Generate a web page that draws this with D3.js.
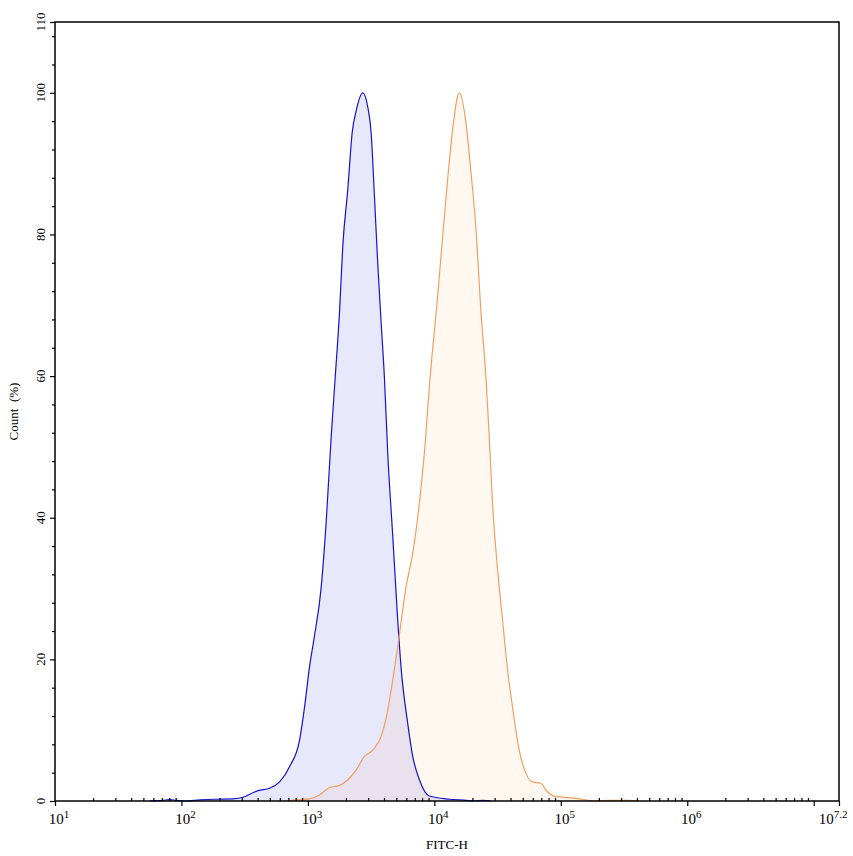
<!DOCTYPE html>
<html>
<head>
<meta charset="utf-8">
<script src="https://cdn.jsdelivr.net/npm/d3@7"></script>
<style>
  body { margin: 0; background: #fff; }
  text { font-family: "Liberation Serif", "Times New Roman", serif; fill: #000; }
</style>
</head>
<body>
<div id="chart"></div>
<script>
// FITC-H intensity (linear units) and Count (%)
var blueX = [56, 71, 81, 90, 106, 140, 183, 254, 316, 346, 403, 498, 597, 716, 859, 941, 1031, 1115,
  1276, 1398, 1529, 1644, 1778, 1888, 2068, 2240, 2410, 2718, 2974, 3162, 3357, 3565, 3793, 4027,
  4276, 4688, 5129, 5458, 6152, 6745, 7616, 9120, 13120, 17900, 20700, 24400, 28200];
var blueY = [0, 0.1, 0.2, 0.1, 0, 0.15, 0.25, 0.3, 0.6, 0.95, 1.46, 1.8, 2.7, 4.85, 8.6, 13.3, 19, 22.8,
  30.3, 39.7, 51.5, 59.8, 69, 78.4, 86.4, 94.4, 97.5, 100, 98, 94.4, 85.5, 76, 67.6, 59.8,
  49.2, 37.4, 25.6, 18.8, 11, 6.3, 3, 0.7, 0.25, 0.1, 0, 0.1, 0];

var orangeX = [655, 761, 1031, 1236, 1483, 1778, 2068, 2410, 2800, 3258, 3793, 4155, 4688, 5223, 5980,
  6745, 7616, 8340, 9250, 10620, 11640, 12740, 13960, 15750, 17780, 19480, 21340, 23380, 25590,
  27160, 28840, 31620, 34600, 37930, 41500, 46900, 52960, 59700, 69500, 76200, 88500, 109600,
  148300, 183200, 241000, 346000, 415000];
var orangeY = [0, 0.14, 0.3, 0.85, 1.9, 2.2, 3, 4.4, 6.3, 7.2, 9.1, 11.7, 17.1, 22.8, 30.3,
  35, 42.1, 49.2, 59.8, 71.3, 79.8, 87.8, 94.9, 100, 95.8, 88.8, 80.8, 69, 59.8,
  51.5, 42.1, 32.7, 25.6, 18.5, 13.3, 7.2, 3.9, 2.7, 2.5, 1.55, 0.7, 0.5,
  0.24, 0, 0.1, 0.1, 0];

var xMajorExp = [1, 2, 3, 4, 5, 6, 7];
var xLabelExp = ["1", "2", "3", "4", "5", "6", "7.2"];
var yMajor = [0, 20, 40, 60, 80, 100, 110];

var svgWidth = 853, svgHeight = 856;
var margin = {top: 22, right: 14, bottom: 55, left: 55};
var width = svgWidth - margin.left - margin.right;
var height = svgHeight - margin.top - margin.bottom;

var svg = d3.select("#chart").append("svg")
  .attr("width", svgWidth)
  .attr("height", svgHeight);
var g = svg.append("g").attr("transform", `translate(${margin.left},${margin.top})`);

var x = d3.scaleLog().domain([10, Math.pow(10, 7.2)]).range([0, width]);
var y = d3.scaleLinear().domain([0, 110]).range([height, 0]);

function series(xs, ys) { return xs.map((v, i) => ({x: v, y: ys[i]})); }
var blue = series(blueX, blueY);
var orange = series(orangeX, orangeY);

var area = d3.area().x(d => x(d.x)).y0(y(0)).y1(d => y(d.y)).curve(d3.curveMonotoneX);
var line = d3.line().x(d => x(d.x)).y(d => y(d.y)).curve(d3.curveMonotoneX);

g.append("path").datum(blue).attr("d", area).attr("fill", "#e8e8fc");
g.append("path").datum(orange).attr("d", area).attr("fill", "#ffa050").attr("fill-opacity", 0.08);
g.append("path").datum(blue).attr("d", line).attr("fill", "none").attr("stroke", "#1414c8").attr("stroke-width", 1.2);
g.append("path").datum(orange).attr("d", line).attr("fill", "none").attr("stroke", "#f0a060").attr("stroke-width", 1.2);

// frame
g.append("rect").attr("width", width).attr("height", height)
  .attr("fill", "none").attr("stroke", "#000").attr("stroke-width", 1.5);

// x axis ticks
var xMinor = [];
for (var e = 1; e <= 7; e++) for (var k = 2; k <= 9; k++) {
  var v = k * Math.pow(10, e);
  if (v < Math.pow(10, 7.2)) xMinor.push(v);
}
var xMajorVals = xMajorExp.map(e => Math.pow(10, e)).concat([Math.pow(10, 7.2)]);
g.append("g").attr("transform", `translate(0,${height})`)
  .call(d3.axisBottom(x).tickValues(xMajorVals).tickSize(5).tickFormat(""))
  .call(a => a.select(".domain").remove());
g.append("g").attr("transform", `translate(0,${height})`)
  .call(d3.axisTop(x).tickValues(xMinor).tickSize(3).tickFormat(""))
  .call(a => a.select(".domain").remove());
g.selectAll(".tick line").attr("stroke-width", 1.2);

var xLabs = [1, 2, 3, 4, 5, 6, 7.2];
xLabs.forEach(function(e, i) {
  var t = g.append("text")
    .attr("x", x(Math.pow(10, e)) + (i === xLabs.length - 1 ? -6 : 4))
    .attr("y", height + 23)
    .attr("text-anchor", "middle")
    .attr("font-size", 15);
  t.append("tspan").text("10");
  t.append("tspan").attr("dy", -6).attr("font-size", 11).text(xLabelExp[i]);
});

// y axis ticks
var yMinor = d3.range(4, 110, 4).filter(v => v % 20 !== 0);
g.append("g")
  .call(d3.axisLeft(y).tickValues(yMajor).tickSize(5).tickFormat(""))
  .call(a => a.select(".domain").remove());
g.append("g")
  .call(d3.axisLeft(y).tickValues(yMinor).tickSize(3).tickFormat(""))
  .call(a => a.select(".domain").remove());
g.selectAll(".tick line").attr("stroke-width", 1.2);

yMajor.forEach(function(v) {
  g.append("text")
    .attr("transform", `translate(-10,${y(v)}) rotate(-90)`)
    .attr("text-anchor", "middle")
    .attr("font-size", 13)
    .text(v);
});

svg.append("text")
  .attr("transform", `translate(18,${margin.top + y(55)}) rotate(-90)`)
  .attr("text-anchor", "middle")
  .attr("font-size", 13)
  .attr("xml:space", "preserve")
  .text("Count  (%)");

svg.append("text")
  .attr("x", 447)
  .attr("y", 849)
  .attr("text-anchor", "middle")
  .attr("font-size", 13)
  .text("FITC-H");
</script>
</body>
</html>
